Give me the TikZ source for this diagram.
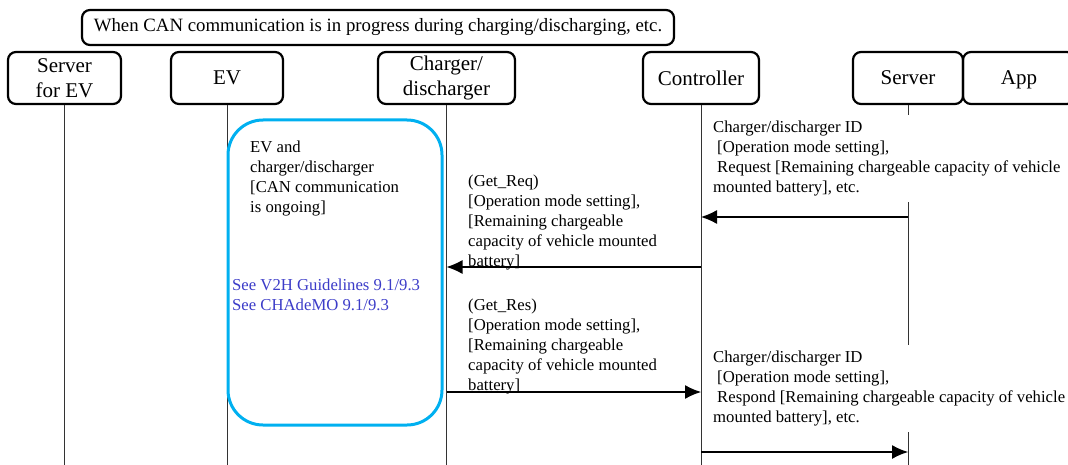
\documentclass[tikz,border=0pt]{standalone}
\usepackage{fontspec}
\setmainfont{Liberation Serif}
\usetikzlibrary{positioning}
\usetikzlibrary{arrows.meta,calc}
\definecolor{canblue}{RGB}{0,176,240}
\definecolor{refblue}{RGB}{60,60,200}
\tikzstyle{actor}=[draw,line width=2.2pt,rounded corners=8pt,minimum height=52pt,align=center,inner sep=2pt,font=\fontsize{21}{25}\selectfont]
\tikzstyle{lifeline}=[draw,line width=0.9pt,black!80]
\tikzstyle{msg}=[draw,line width=1.2pt,-{Latex[length=16pt,width=14pt]}]
\tikzstyle{note}=[align=left,inner sep=0pt,font=\fontsize{16.7}{20}\selectfont]
\tikzstyle{covernote}=[note,fill=white,inner xsep=3pt,inner ysep=6pt]
\tikzstyle{canbox}=[draw=canblue,line width=3pt,rounded corners=35pt,minimum width=214pt,minimum height=305pt]

\begin{document}
\begin{tikzpicture}[x=1pt,y=-1pt]
\useasboundingbox (0,0) rectangle (1068,465);

    % condition box
    \node[draw,line width=2.2pt,rounded corners=8pt,minimum width=592pt,minimum height=35pt,inner sep=0pt,font=\fontsize{18.8}{22}\selectfont] (cond) at (378,27.5) {When CAN communication is in progress during charging/discharging, etc.};

    % actors and lifelines
    \foreach \pos/\name/\boxw/\label in {{(64.5,78)/sev/113/{Server\\for EV}}, {(227,78)/ev/112/EV}, {(446.5,78)/chg/137/{Charger/\\discharger}}, {(701,78)/ctl/116/Controller}, {(908,78)/srv/110/Server}, {(1019,78)/app/112/{\raisebox{0pt}[\height][0pt]{App}}}}
        \node[actor,minimum width=\boxw pt] (\name) at \pos {\label};

    \foreach \name in {sev,ev,chg,ctl,srv}
    {
        \coordinate (\name-end) at (\name.south |- 0,466);
        \path[lifeline] (\name.south) -- (\name-end);
    }

    % CAN box on EV / charger side
    \node[canbox] (can) at (335,272.5) {};
    \node[note,anchor=north west] (cantxt) at (250,141) {EV and\\charger/discharger\\{}[CAN communication\\is ongoing]};
    \node[note,anchor=north west,text=refblue] (seetxt) at (232,279) {See V2H Guidelines 9.1/9.3\\See CHAdeMO 9.1/9.3};

    % messages
    \foreach \src/\dst/\y in {srv/ctl/217, ctl/chg/267, chg/ctl/392, ctl/srv/452}
    {
        \coordinate (\src-\y) at (\src.south |- 0,\y);
        \coordinate (\dst-\y-in) at (\dst.south |- 0,\y);
        \path[msg] (\src-\y) -- (\dst-\y-in);
    }

    \node[covernote,anchor=north west] (reqtxt) at (710,115) {Charger/discharger ID\\\hspace*{4pt}[Operation mode setting],\\\hspace*{4pt}Request [Remaining chargeable capacity of vehicle\\mounted battery], etc.};
    \node[note,anchor=north west] (getreq) at (468,175) {(Get\_Req)\\{}[Operation mode setting],\\{}[Remaining chargeable\\capacity of vehicle mounted\\battery]};
    \node[note,anchor=north west] (getres) at (468,299) {(Get\_Res)\\{}[Operation mode setting],\\{}[Remaining chargeable\\capacity of vehicle mounted\\battery]};
    \node[covernote,anchor=north west] (restxt) at (710,345) {Charger/discharger ID\\\hspace*{4pt}[Operation mode setting],\\\hspace*{4pt}Respond [Remaining chargeable capacity of vehicle\\mounted battery], etc.};

\end{tikzpicture}
\end{document}
